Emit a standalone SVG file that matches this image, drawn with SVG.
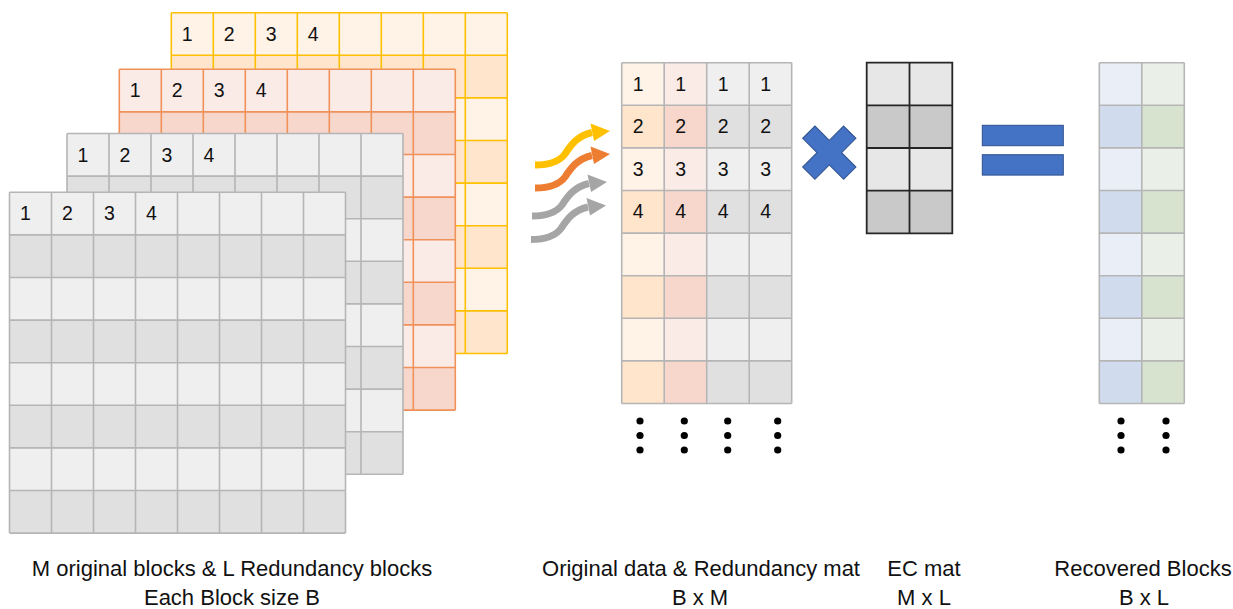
<svg xmlns="http://www.w3.org/2000/svg" xmlns:xlink="http://www.w3.org/1999/xlink" width="1233" height="609" viewBox="0 0 1233 609">
<style>
.num{font-family:"Liberation Sans",Arial,sans-serif;font-size:19.5px;fill:#111}
.lbl{font-family:"Liberation Sans",Arial,sans-serif;font-size:22px;fill:#111;text-anchor:middle}
.gl{fill:none;stroke-width:1.6}
.dot{fill:#000}
.shaft{fill:none;stroke-width:7}
.blue{fill:#4472C4;stroke:#2F528F;stroke-width:1}
</style>
<defs>
<path id="gl8" class="gl" d="M0 0V340.8M42 0V340.8M84 0V340.8M126 0V340.8M168 0V340.8M210 0V340.8M252 0V340.8M294 0V340.8M336 0V340.8M0 0H336M0 42.6H336M0 85.2H336M0 127.8H336M0 170.4H336M0 213H336M0 255.6H336M0 298.2H336M0 340.8H336"/>
<g id="dk8"><rect y="42.6" width="336" height="42.6"/><rect y="127.8" width="336" height="42.6"/><rect y="213" width="336" height="42.6"/><rect y="298.2" width="336" height="42.6"/></g>
<g id="dkc"><rect y="42.6" width="42.5" height="42.6"/><rect y="127.8" width="42.5" height="42.6"/><rect y="213" width="42.5" height="42.6"/><rect y="298.2" width="42.5" height="42.6"/></g>
<g id="nums"><text class="num" x="10.5" y="28">1</text><text class="num" x="52.5" y="28">2</text><text class="num" x="94.5" y="28">3</text><text class="num" x="136.5" y="28">4</text></g>
<path id="arrowShaft" class="shaft" d="M0 0C14 0 24 -3 30 -11C36 -20 42 -29 57 -32.5"/>
<polygon id="arrowHead" points="55.5,-41.5 75,-34 59,-24"/>
</defs>

<g id="block-yellow" transform="translate(171.3,12.7)">
<rect width="336" height="340.8" fill="#FFF2E6"/>
<use href="#dk8" fill="#FFE5CB"/>
<use href="#gl8" stroke="#FFC000"/>
<use href="#nums"/>
</g>
<g id="block-orange" transform="translate(119.3,69.3)">
<rect width="336" height="340.8" fill="#FBEBE6"/>
<use href="#dk8" fill="#F7D6CB"/>
<use href="#gl8" stroke="#F0915A"/>
<use href="#nums"/>
</g>
<g id="block-gray2" transform="translate(67,133.5)">
<rect width="336" height="340.8" fill="#EFEFEF"/>
<use href="#dk8" fill="#E0E0E0"/>
<use href="#gl8" stroke="#B5B5B5"/>
<use href="#nums"/>
</g>
<g id="block-gray1" transform="translate(9.5,192.3)">
<rect width="336" height="340.8" fill="#EFEFEF"/>
<use href="#dk8" fill="#E0E0E0"/>
<use href="#gl8" stroke="#B5B5B5"/>
<use href="#nums"/>
</g>

<g id="connectors">
<g id="arrow-yellow" transform="translate(535,165)"><use href="#arrowShaft" stroke="#FFC000"/><use href="#arrowHead" fill="#FFC000"/></g>
<g id="arrow-orange" transform="translate(535,188)"><use href="#arrowShaft" stroke="#ED7D31"/><use href="#arrowHead" fill="#ED7D31"/></g>
<g id="arrow-gray1" transform="translate(532,216)"><use href="#arrowShaft" stroke="#A5A5A5"/><use href="#arrowHead" fill="#A5A5A5"/></g>
<g id="arrow-gray2" transform="translate(531,239.5)"><use href="#arrowShaft" stroke="#A5A5A5"/><use href="#arrowHead" fill="#A5A5A5"/></g>
</g>

<g id="data-matrix" transform="translate(621.7,62.7)">
<rect x="0" width="42.5" height="340.8" fill="#FFF2E6"/>
<rect x="42.5" width="42.5" height="340.8" fill="#FBEBE6"/>
<rect x="85" width="85" height="340.8" fill="#EFEFEF"/>
<use href="#dkc" x="0" fill="#FFE5CB"/>
<use href="#dkc" x="42.5" fill="#F7D6CB"/>
<use href="#dkc" x="85" fill="#E0E0E0"/>
<use href="#dkc" x="127.5" fill="#E0E0E0"/>
<path class="gl" stroke="#B5B5B5" d="M0 0V340.8M42.5 0V340.8M85 0V340.8M127.5 0V340.8M170 0V340.8M0 0H170M0 42.6H170M0 85.2H170M0 127.8H170M0 170.4H170M0 213H170M0 255.6H170M0 298.2H170M0 340.8H170"/>
<text class="num" x="11" y="28">1</text><text class="num" x="53.5" y="28">1</text><text class="num" x="96" y="28">1</text><text class="num" x="138.5" y="28">1</text>
<text class="num" x="11" y="70.6">2</text><text class="num" x="53.5" y="70.6">2</text><text class="num" x="96" y="70.6">2</text><text class="num" x="138.5" y="70.6">2</text>
<text class="num" x="11" y="113.2">3</text><text class="num" x="53.5" y="113.2">3</text><text class="num" x="96" y="113.2">3</text><text class="num" x="138.5" y="113.2">3</text>
<text class="num" x="11" y="155.8">4</text><text class="num" x="53.5" y="155.8">4</text><text class="num" x="96" y="155.8">4</text><text class="num" x="138.5" y="155.8">4</text>
</g>
<g id="data-dots">
<circle class="dot" cx="640" cy="421" r="3.6"/><circle class="dot" cx="640" cy="435.5" r="3.6"/><circle class="dot" cx="640" cy="450" r="3.6"/>
<circle class="dot" cx="684.3" cy="421" r="3.6"/><circle class="dot" cx="684.3" cy="435.5" r="3.6"/><circle class="dot" cx="684.3" cy="450" r="3.6"/>
<circle class="dot" cx="727.7" cy="421" r="3.6"/><circle class="dot" cx="727.7" cy="435.5" r="3.6"/><circle class="dot" cx="727.7" cy="450" r="3.6"/>
<circle class="dot" cx="777.7" cy="421" r="3.6"/><circle class="dot" cx="777.7" cy="435.5" r="3.6"/><circle class="dot" cx="777.7" cy="450" r="3.6"/>
</g>

<g id="multiply">
<polygon class="blue" transform="translate(829.3,152.7) rotate(45)" points="-8.7,-29 8.7,-29 8.7,-8.7 29,-8.7 29,8.7 8.7,8.7 8.7,29 -8.7,29 -8.7,8.7 -29,8.7 -29,-8.7 -8.7,-8.7"/>
</g>

<g id="ec-matrix" transform="translate(866.7,62.7)">
<rect width="85.6" height="170.6" fill="#E7E7E7"/>
<rect y="42.65" width="85.6" height="42.65" fill="#C9C9C9"/>
<rect y="127.95" width="85.6" height="42.65" fill="#C9C9C9"/>
<path fill="none" stroke="#262626" stroke-width="1.8" d="M0 0H85.6V170.6H0ZM42.8 0V170.6M0 42.65H85.6M0 85.3H85.6M0 127.95H85.6"/>
</g>

<g id="equals">
<rect class="blue" x="982.3" y="125.3" width="81" height="20.4"/>
<rect class="blue" x="982.3" y="154.7" width="81" height="20.4"/>
</g>

<g id="recovered-matrix" transform="translate(1099.3,62.7)">
<rect x="0" width="42.5" height="340.8" fill="#E9EEF7"/>
<rect x="42.5" width="42.5" height="340.8" fill="#EAF0E7"/>
<use href="#dkc" x="0" fill="#D0DCEE"/>
<use href="#dkc" x="42.5" fill="#D7E3CF"/>
<path class="gl" stroke="#B5B5B5" d="M0 0V340.8M42.5 0V340.8M85 0V340.8M0 0H85M0 42.6H85M0 85.2H85M0 127.8H85M0 170.4H85M0 213H85M0 255.6H85M0 298.2H85M0 340.8H85"/>
</g>
<g id="recovered-dots">
<circle class="dot" cx="1121" cy="421" r="3.6"/><circle class="dot" cx="1121" cy="435.5" r="3.6"/><circle class="dot" cx="1121" cy="450" r="3.6"/>
<circle class="dot" cx="1166" cy="421" r="3.6"/><circle class="dot" cx="1166" cy="435.5" r="3.6"/><circle class="dot" cx="1166" cy="450" r="3.6"/>
</g>

<g id="labels">
<text class="lbl" x="232" y="576">M original blocks &amp; L Redundancy blocks</text>
<text class="lbl" x="232" y="605">Each Block size B</text>
<text class="lbl" x="701" y="576">Original data &amp; Redundancy mat</text>
<text class="lbl" x="700" y="605">B x M</text>
<text class="lbl" x="924" y="576">EC mat</text>
<text class="lbl" x="924" y="605">M x L</text>
<text class="lbl" x="1143" y="576">Recovered Blocks</text>
<text class="lbl" x="1144" y="605">B x L</text>
</g>
</svg>
